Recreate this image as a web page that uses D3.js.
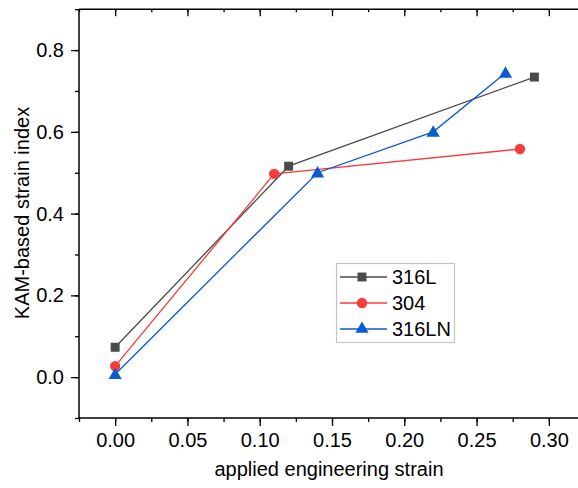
<!DOCTYPE html>
<html><head><meta charset="utf-8">
<script src="https://cdn.jsdelivr.net/npm/d3@7"></script>
<style>body{margin:0;background:#fff}svg{display:block}text{font-family:Arial,"Liberation Sans",sans-serif}</style>
</head><body>
<svg id="c" width="578" height="488"></svg>
<script>
const strain316L = [0, 0.12, 0.29];
const kam316L = [0.073, 0.516, 0.734];
const strain304 = [0, 0.11, 0.28];
const kam304 = [0.027, 0.497, 0.558];
const strain316LN = [0, 0.14, 0.22, 0.27];
const kam316LN = [0.007, 0.50, 0.60, 0.744];
const seriesNames = ["316L", "304", "316LN"];
const xTicks = [0, 0.05, 0.10, 0.15, 0.20, 0.25, 0.30];
const yTicks = [0, 0.2, 0.4, 0.6, 0.8];

(function(){
const svg = d3.select("#c");
const x = d3.scaleLinear().domain([-0.025, 0.325]).range([79, 585]);
const y = d3.scaleLinear().domain([-0.1, 0.9]).range([418, 9.2]);
const FS = 20;

const series = [
  {name: seriesNames[0], xs: strain316L, ys: kam316L, color: "#4a4a4a", marker: d3.symbolSquare, size: 80},
  {name: seriesNames[1], xs: strain304, ys: kam304, color: "#f83c3c", marker: d3.symbolCircle, size: 85},
  {name: seriesNames[2], xs: strain316LN, ys: kam316LN, color: "#0a5ad2", marker: d3.symbolTriangle, size: 75}
];

const xMinor = d3.range(-0.025, 0.3251, 0.025);
const yMinor = d3.range(-0.1, 0.9001, 0.1);
const bottomG = svg.append("g").attr("transform", `translate(0,${y(-0.1)})`);
bottomG.call(d3.axisBottom(x).tickValues(xMinor).tickSize(4).tickFormat(""));
const bottomMaj = svg.append("g").attr("transform", `translate(0,${y(-0.1)})`)
  .call(d3.axisBottom(x).tickValues(xTicks).tickSize(8).tickPadding(7).tickFormat(d3.format(".2f")));
bottomMaj.selectAll("text").attr("font-size", FS).attr("fill", "#000");

const topG = svg.append("g").attr("transform", `translate(0,${y(0.9)})`);
topG.call(d3.axisBottom(x).tickValues(xMinor).tickSize(3).tickFormat(""));
const topG2 = svg.append("g").attr("transform", `translate(0,${y(0.9)})`);
topG2.call(d3.axisBottom(x).tickValues(xTicks).tickSize(7).tickFormat(""));

const leftG = svg.append("g").attr("transform", `translate(${x(-0.025)},0)`);
leftG.call(d3.axisLeft(y).tickValues(yMinor).tickSize(4).tickFormat(""));
const leftMaj = svg.append("g").attr("transform", `translate(${x(-0.025)},0)`)
  .call(d3.axisLeft(y).tickValues(yTicks).tickSize(8).tickPadding(7).tickFormat(d3.format(".1f")));
leftMaj.selectAll("text").attr("font-size", FS).attr("fill", "#000");

svg.selectAll(".domain").remove();
svg.selectAll(".tick line").attr("stroke", "#000").attr("stroke-width", 1.3);

svg.append("line").attr("x1", x(-0.025)).attr("x2", 578).attr("y1", y(0.9)).attr("y2", y(0.9)).attr("stroke", "#000").attr("stroke-width", 1.5);
svg.append("line").attr("x1", x(-0.025)).attr("x2", 578).attr("y1", y(-0.1)).attr("y2", y(-0.1)).attr("stroke", "#000").attr("stroke-width", 1.5);
svg.append("line").attr("x1", x(-0.025)).attr("x2", x(-0.025)).attr("y1", y(0.9)).attr("y2", y(-0.1)).attr("stroke", "#000").attr("stroke-width", 1.5);

svg.append("text").attr("x", 329).attr("y", 476).attr("text-anchor", "middle").attr("font-size", FS).text("applied engineering strain");
svg.append("text").attr("transform", "translate(29,213) rotate(-90)").attr("text-anchor", "middle").attr("font-size", FS).text("KAM-based strain index");

const line = d3.line().x(d => x(d[0])).y(d => y(d[1]));
series.forEach(s => {
  const pts = s.xs.map((v, i) => [v, s.ys[i]]);
  svg.append("path").datum(pts).attr("d", line).attr("fill", "none").attr("stroke", s.color).attr("stroke-width", 1.3);
  svg.selectAll(null).data(pts).enter().append("path")
    .attr("d", d3.symbol().type(s.marker).size(s.size))
    .attr("transform", d => `translate(${x(d[0])},${y(d[1]) + (s.marker === d3.symbolTriangle ? 1 : 0)})`)
    .attr("fill", s.color);
});

const lg = svg.append("g");
lg.append("rect").attr("x", 336.5).attr("y", 263.5).attr("width", 118).attr("height", 79).attr("fill", "#fff").attr("stroke", "#c4c4c4").attr("stroke-width", 1.2);
series.forEach((s, i) => {
  const yy = 277 + i * 26;
  lg.append("line").attr("x1", 340).attr("x2", 387).attr("y1", yy).attr("y2", yy).attr("stroke", s.color).attr("stroke-width", 1.3);
  lg.append("path").attr("d", d3.symbol().type(s.marker).size(s.size)).attr("transform", `translate(362,${yy})`).attr("fill", s.color);
  lg.append("text").attr("x", 392).attr("y", yy + 7).attr("font-size", FS).attr("fill", "#000").text(s.name);
});
})();
</script>
</body></html>
